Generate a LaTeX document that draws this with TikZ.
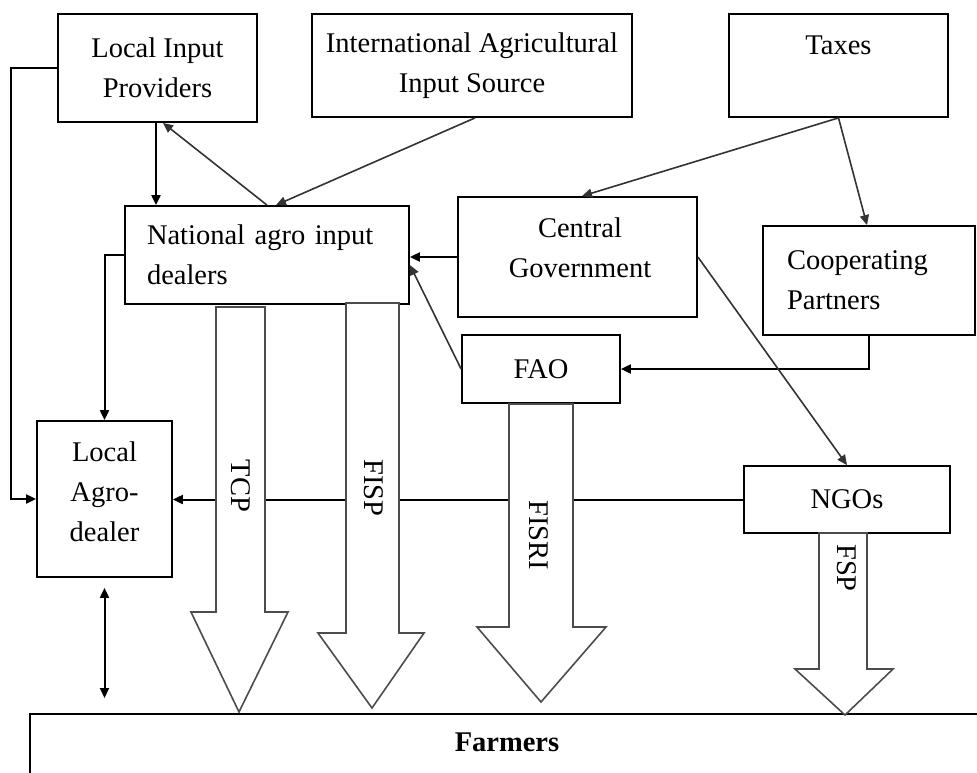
\documentclass[tikz,border=0pt]{standalone}
\usepackage{fontspec}
\setmainfont{Liberation Serif}
\usetikzlibrary{arrows.meta,calc}
\tikzset{
  box/.style n args={2}{draw=black,line width=1.8pt,fill=white,minimum width=#1,minimum height=#2,inner sep=0pt},
  conn/.style={draw=black,line width=2pt,-{Triangle[length=10pt,width=9pt]}},
  diag/.style={draw=black!80,line width=1.6pt,-{Triangle[length=10pt,width=9pt]}},
  plain/.style={draw=black,line width=2pt},
  blockarr/.style={draw=black!70,line width=1.6pt,fill=white,line join=miter},
  lbl/.style={inner sep=0pt},
}
\begin{document}
\begin{tikzpicture}[x=1pt,y=-1pt,every node/.append style={font=\fontsize{28.5}{40}\selectfont}]
\useasboundingbox (0,0) rectangle (977,772);
\clip (0,0) rectangle (977,772);
\fill[white] (0,0) rectangle (977,772);

% boxes
\node[box={199pt}{108pt},align=center] (lip) at (157.5,68) {Local Input\\Providers};
\node[box={320pt}{103pt},align=center] (intl) at (472,65.5) {International Agricultural\\Input Source};
\node[box={219pt}{103pt},align=center] (taxes) at (838.5,65.5) {Taxes\\\mbox{}};
\node[box={284pt}{98pt},align=left,text width=240pt,inner xsep=22pt] (natl) at (267,255) {National agro input\\dealers};
\node[box={239pt}{120pt}] (cg) at (577.5,257) {};
\node[lbl,align=center] (cgtext) at (580,248) {Central\\Government};
\node[box={212pt}{109pt},align=left,text width=164pt,inner xsep=24pt] (coop) at (869,280.5) {Cooperating\\Partners};
\node[box={158pt}{68pt}] (fao) at (541,369) {FAO};
\node[box={206pt}{67pt}] (ngos) at (847,499.5) {NGOs};
\node[box={135pt}{156pt}] (lad) at (104.5,499) {};
\node[lbl,align=center] (ladtext) at (104.5,492) {Local\\Agro-\\dealer};
\node[draw=black,line width=2pt,fill=white,minimum width=990pt,minimum height=100pt,inner sep=0pt,anchor=north west] (farmers) at (29,713) {};
\node[lbl,font=\fontsize{28.5}{32}\selectfont\bfseries] (farmerstext) at (507,742) {Farmers};

% connectors
\draw[conn] (lip.west) -- ++(-46,0) |- (lad.west);
\draw[conn] (natl.west) -| (lad.north);
\draw[conn] ([xshift=-1.5pt]lip.south) -- ([xshift=-1.5pt]lip.south |- natl.north);
\draw[diag] (natl.north) -- ([xshift=5.5pt]lip.south);
\draw[diag] ([xshift=3pt]intl.south) -- ([xshift=9pt]natl.north);
\draw[diag] (taxes.south) -- ([xshift=4.5pt]cg.north);
\draw[diag] (taxes.south) -- ([xshift=-2pt]coop.north);
\draw[conn] (cg.west) -- (cg.west -| natl.east);
\draw[diag] (fao.west) -- ([yshift=-10pt]natl.east);
\draw[conn] (coop.south) |- (fao.east);
\draw[diag] (cg.east) -- (ngos.north);
\draw[conn] (ngos.west) -- (ngos.west -| lad.east);
\coordinate (dtop) at ([yshift=-10pt]lad.south);
\coordinate (dbot) at ([yshift=15pt]lad.south |- farmers.north);
\draw[plain,{Triangle[length=10pt,width=9pt]}-{Triangle[length=10pt,width=9pt]}] (dtop) -- (dbot);

% block arrows
\draw[blockarr] (216,307) -- (265,307) -- (265,612) -- (288,612) -- (239,712) -- (191,612) -- (216,612) -- cycle;
\draw[blockarr] (346,303) -- (399,303) -- (399,633) -- (424,633) -- (372,708) -- (318,633) -- (346,633) -- cycle;
\draw[blockarr] (509,404) -- (573,404) -- (573,627) -- (606,627) -- (541,702) -- (477,627) -- (509,627) -- cycle;
\draw[blockarr] (819,533) -- (867,533) -- (867,669) -- (893,669) -- (845,715) -- (795,669) -- (819,669) -- cycle;
\node[lbl,rotate=-90] (tcp) at (241,486) {TCP};
\node[lbl,rotate=-90] (fisp) at (374,488) {FISP};
\node[lbl,rotate=-90] (fisri) at (539,535) {FISRI};
\node[lbl,rotate=-90] (fsp) at (847,568) {FSP};
\end{tikzpicture}
\end{document}
